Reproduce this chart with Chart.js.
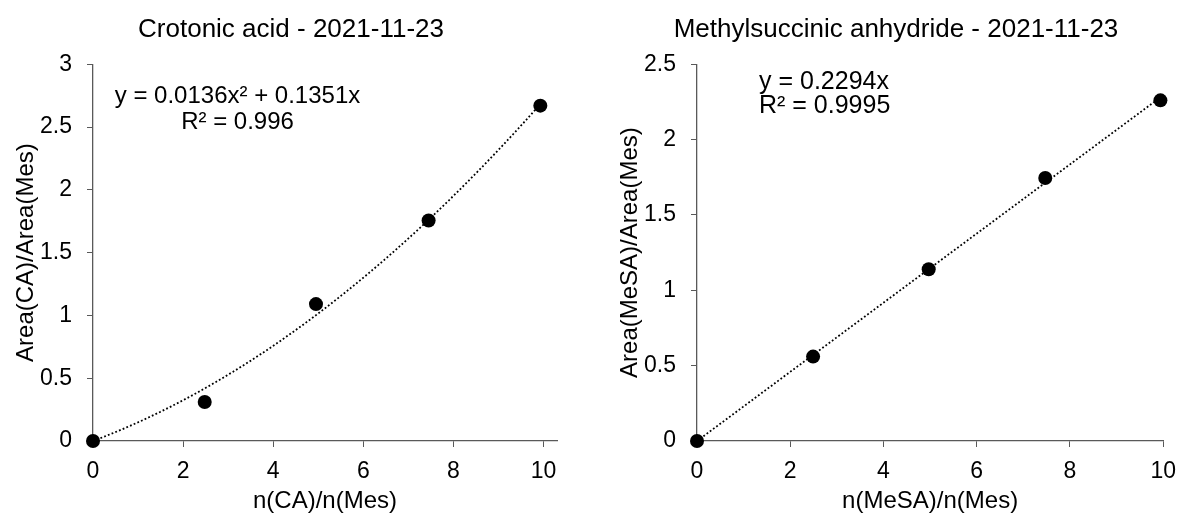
<!DOCTYPE html>
<html>
<head>
<meta http-equiv="Content-Type" content="text/html; charset=UTF-8" />
<script src="https://cdn.jsdelivr.net/npm/chart.js"></script>
<title>Calibration curves</title>
<style>
    body { margin:0; background-color:white; }
    #wrap { position:relative; width:1187px; height:513px; }
    .box { position:absolute; top:0; }
</style>
</head>
<body>
<div id="wrap">
    <div class="box" style="left:0px;"><canvas id="caChart" width="586" height="513"></canvas></div>
    <div class="box" style="left:611px;"><canvas id="mesaChart" width="576" height="513"></canvas></div>
</div>

<script>
    var caX = [0, 2.48, 4.95, 7.45, 9.93]
    var caY = [0, 0.31, 1.09, 1.755, 2.67]
    var mesaX = [0, 2.49, 4.97, 7.47, 9.94]
    var mesaY = [0, 0.56, 1.14, 1.745, 2.26]

    // axis ticks
    var xTicks = [0, 2, 4, 6, 8, 10]
    var caYTicks = [0, 0.5, 1, 1.5, 2, 2.5, 3]
    var mesaYTicks = [0, 0.5, 1, 1.5, 2, 2.5]

    // trendline coefficients (y = a*x^2 + b*x) and the equation labels
    var caFit = [0.0136, 0.1351]
    var mesaFit = [0, 0.2294]
    var caEq = ['y = 0.0136x\u00B2 + 0.1351x', 'R\u00B2 = 0.996']
    var mesaEq = ['y = 0.2294x', 'R\u00B2 = 0.9995']

    var FONT = '"Liberation Sans", Arial, sans-serif'

    var toPoints = function(xs, ys) {
        var pts = []
        for (var i = 0; i < xs.length; i++) pts.push({x: xs[i], y: ys[i]})
        return pts
    }

    // dotted polynomial trendline, drawn through the chart scales
    var trendPlugin = {
        id: 'trend',
        beforeDatasetsDraw: function(chart, args, opts) {
            var sx = chart.scales.x, sy = chart.scales.y, ctx = chart.ctx
            var n = 80
            ctx.save()
            ctx.beginPath()
            for (var i = 0; i <= n; i++) {
                var x = opts.from + (opts.to - opts.from) * i / n
                var y = opts.coef[0] * x * x + opts.coef[1] * x
                var px = sx.getPixelForValue(x), py = sy.getPixelForValue(y)
                if (i == 0) ctx.moveTo(px, py); else ctx.lineTo(px, py)
            }
            ctx.setLineDash([1.8, 2.2])
            ctx.lineWidth = 1.8
            ctx.strokeStyle = '#000'
            ctx.stroke()
            ctx.restore()
        }
    }

    // equation / R² text box
    var eqPlugin = {
        id: 'eq',
        afterDraw: function(chart, args, opts) {
            var ctx = chart.ctx, area = chart.chartArea
            ctx.save()
            ctx.font = opts.size + 'px ' + FONT
            ctx.fillStyle = '#000'
            ctx.textAlign = opts.align
            ctx.textBaseline = 'middle'
            for (var i = 0; i < opts.lines.length; i++) {
                ctx.fillText(opts.lines[i], area.left + opts.dx, area.top + opts.dy + i * opts.gap)
            }
            ctx.restore()
        }
    }

    var makeChart = function(id, title, xTitle, yTitle, pts, xMax, yMax, yTicks, fit, eq, sizes) {
        var axisColor = '#595959'
        return new Chart(document.getElementById(id), {
            type: 'scatter',
            data: {
                datasets: [{
                    data: pts,
                    backgroundColor: '#000',
                    borderWidth: 0,
                    pointRadius: 7,
                    pointHoverRadius: 7,
                    clip: false,
                }]
            },
            options: {
                responsive: false,
                animation: false,
                layout: { padding: { left: sizes.left, right: sizes.right, top: 0, bottom: 0 } },
                plugins: {
                    legend: { display: false },
                    tooltip: { enabled: false },
                    title: {
                        display: true,
                        text: title,
                        color: '#000',
                        font: { family: FONT, size: 26, weight: 'normal', lineHeight: 1.2 },
                        padding: { top: 14, bottom: 19 },
                    },
                    trend: { coef: fit, from: 0, to: pts[pts.length - 1].x },
                    eq: eq,
                },
                scales: {
                    x: {
                        type: 'linear',
                        min: 0,
                        max: xMax,
                        afterBuildTicks: function(s) { s.ticks = xTicks.map(function(v) { return {value: v} }) },
                        afterFit: function(s) { s.height = 72 },
                        ticks: {
                            color: '#000',
                            font: { family: FONT, size: 23 },
                            padding: 11,
                            maxRotation: 0,
                            callback: function(v) { return String(v) },
                        },
                        grid: { drawOnChartArea: false, tickLength: 6, color: axisColor },
                        border: { display: true, color: axisColor, width: 1.3 },
                        title: {
                            display: true,
                            text: xTitle,
                            color: '#000',
                            font: { family: FONT, size: 24 },
                            padding: { top: 0, bottom: -3 },
                        },
                    },
                    y: {
                        type: 'linear',
                        min: 0,
                        max: yMax,
                        afterBuildTicks: function(s) { s.ticks = yTicks.map(function(v) { return {value: v} }) },
                        afterFit: function(s) { s.width = sizes.yw },
                        ticks: {
                            color: '#000',
                            font: { family: FONT, size: 23 },
                            padding: 15,
                            callback: function(v) { return String(v) },
                        },
                        grid: { drawOnChartArea: false, tickLength: 6, color: axisColor },
                        border: { display: true, color: axisColor, width: 1.3 },
                        title: {
                            display: true,
                            text: yTitle,
                            color: '#000',
                            font: { family: FONT, size: 24 },
                            padding: { top: sizes.yt, bottom: 0 },
                        },
                    },
                },
            },
            plugins: [trendPlugin, eqPlugin],
        })
    }

    makeChart('caChart', 'Crotonic acid - 2021-11-23', 'n(CA)/n(Mes)', 'Area(CA)/Area(Mes)',
        toPoints(caX, caY), 10.3, 3, caYTicks, caFit,
        { lines: caEq, align: 'center', size: 24, dx: 144.5, dy: 32, gap: 26 },
        { left: 25, right: 29, yw: 68, yt: -13.4 })

    makeChart('mesaChart', 'Methylsuccinic anhydride - 2021-11-23', 'n(MeSA)/n(Mes)', 'Area(MeSA)/Area(Mes)',
        toPoints(mesaX, mesaY), 10, 2.5, mesaYTicks, mesaFit,
        { lines: mesaEq, align: 'left', size: 25, dx: 62, dy: 18, gap: 24 },
        { left: 11, right: 17, yw: 75, yt: -6.4 })
</script>
</body>
</html>
